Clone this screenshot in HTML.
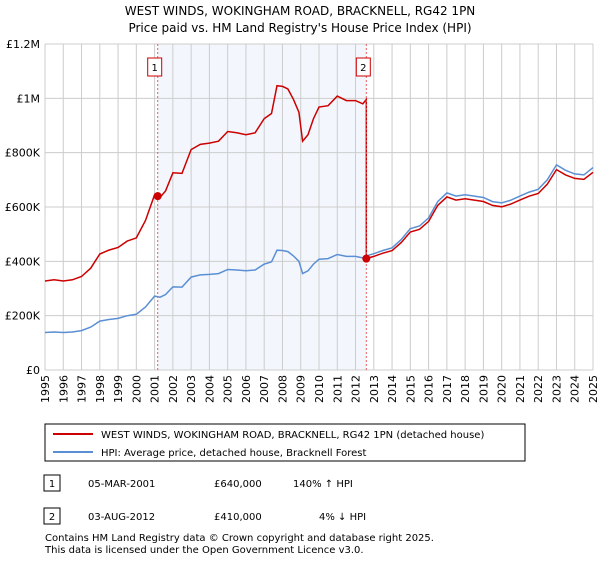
<!DOCTYPE html>
<html><head><meta charset="utf-8"><style>
body{margin:0;background:#fff;font-family:"Liberation Sans","DejaVu Sans",sans-serif;}
svg text{font-family:"DejaVu Sans","Liberation Sans",sans-serif;}
</style></head><body>
<svg id="c" width="600" height="560" xmlns="http://www.w3.org/2000/svg">
<text x="300" y="15" text-anchor="middle" font-size="12">WEST WINDS, WOKINGHAM ROAD, BRACKNELL, RG42 1PN</text>
<text x="300" y="32" text-anchor="middle" font-size="12">Price paid vs. HM Land Registry's House Price Index (HPI)</text>
<g id="grid"></g><g id="series"></g>
<rect x="45" y="424" width="480" height="37" fill="#fff" stroke="#000" stroke-width="1"/>
<line x1="53" y1="434" x2="93" y2="434" stroke="#cc0000" stroke-width="2"/>
<text x="101" y="438" font-size="10">WEST WINDS, WOKINGHAM ROAD, BRACKNELL, RG42 1PN (detached house)</text>
<line x1="53" y1="452" x2="93" y2="452" stroke="#5b8fd4" stroke-width="2"/>
<text x="101" y="456" font-size="10">HPI: Average price, detached house, Bracknell Forest</text>
<rect x="44" y="475" width="16" height="16" fill="#fff" stroke="#000"/>
<text x="52" y="487" font-size="10" text-anchor="middle">1</text>
<text x="88" y="487" font-size="10">05-MAR-2001</text>
<text x="214" y="487" font-size="10">£640,000</text>
<text x="293" y="487" font-size="10">140% ↑ HPI</text>
<rect x="44" y="508" width="16" height="16" fill="#fff" stroke="#000"/>
<text x="52" y="520" font-size="10" text-anchor="middle">2</text>
<text x="88" y="520" font-size="10">03-AUG-2012</text>
<text x="214" y="520" font-size="10">£410,000</text>
<text x="319" y="520" font-size="10">4% ↓ HPI</text>
<text x="45" y="541" font-size="10">Contains HM Land Registry data © Crown copyright and database right 2025.</text>
<text x="45" y="553" font-size="10">This data is licensed under the Open Government Licence v3.0.</text>
</svg>
<script>
const hpiYears=[1995,1995.5,1996,1996.5,1997,1997.5,1998,1998.5,1999,1999.5,2000,2000.5,2001,2001.3,2001.6,2002,2002.5,2003,2003.5,2004,2004.5,2005,2005.5,2006,2006.5,2007,2007.4,2007.7,2008,2008.3,2008.6,2008.9,2009.1,2009.4,2009.7,2010,2010.5,2011,2011.5,2012,2012.4,2012.6,2013,2013.5,2014,2014.5,2015,2015.5,2016,2016.5,2017,2017.5,2018,2018.5,2019,2019.5,2020,2020.5,2021,2021.5,2022,2022.5,2023,2023.5,2024,2024.5,2025];
const hpiValues=[138,140,138,140,145,158,180,186,190,200,205,232,272,268,278,306,305,342,350,352,355,370,368,365,368,390,398,441,440,436,420,400,355,365,390,408,410,425,418,418,413,420,428,440,450,480,520,530,560,620,652,640,645,640,635,620,615,625,640,655,665,700,755,735,722,718,745];
const sales=[{t:2001.17,v:640000,label:"1"},{t:2012.59,v:410000,label:"2"}];
const yTicks=[0,200000,400000,600000,800000,1000000,1200000];
const yTickLabels=["£0","£200K","£400K","£600K","£800K","£1M","£1.2M"];
const x0=45,x1=593,y0=370,y1=44;
const X=t=>x0+(t-1995)/30*(x1-x0);
const Y=v=>y0-v/1200000*(y0-y1);
const NS="http://www.w3.org/2000/svg";
function mk(tag,attrs,parent){const e=document.createElementNS(NS,tag);for(const k in attrs)e.setAttribute(k,attrs[k]);parent.appendChild(e);return e;}
const g=document.getElementById('grid'),s=document.getElementById('series');
let r=mk('rect',{x:X(sales[0].t),y:y1,width:X(sales[1].t)-X(sales[0].t),height:y0-y1,fill:'#eef3fc',opacity:0.7},g);


for(let yr=1995;yr<=2025;yr++){
 let l=mk('line',{x1:X(yr),x2:X(yr),y1:y1,y2:y0,stroke:'#cccccc','stroke-width':1},g);
 
 
 let t=mk('text',{x:0,y:0,'font-size':11,'text-anchor':'end',transform:`translate(${X(yr)+4},${y0+5}) rotate(-90)`},g);
 t.textContent=yr;
 
 
}
yTicks.forEach((v,i)=>{
 let l=mk('line',{x1:x0,x2:x1,y1:Y(v),y2:Y(v),stroke:'#cccccc','stroke-width':1},g);
 
 
 let t=mk('text',{x:40,y:Y(v)+4,'font-size':11,'text-anchor':'end'},g);
 t.textContent=yTickLabels[i];
 
 
});
function hpiAt(t){for(let i=1;i<hpiYears.length;i++){if(t<=hpiYears[i]){const f=(t-hpiYears[i-1])/(hpiYears[i]-hpiYears[i-1]);return hpiValues[i-1]+f*(hpiValues[i]-hpiValues[i-1]);}}return hpiValues[hpiValues.length-1];}
const hp=hpiYears.map((t,i)=>`${X(t).toFixed(1)},${Y(hpiValues[i]*1000).toFixed(1)}`).join(' ');
let hl=mk('polyline',{points:hp,fill:'none',stroke:'#5b8fd4','stroke-width':1.5},s);


const r1=sales[0].v/(hpiAt(sales[0].t)*1000), r2=sales[1].v/(hpiAt(sales[1].t)*1000);
let pts=[];
hpiYears.forEach((t,i)=>{if(t<sales[1].t)pts.push([t,hpiValues[i]*1000*r1]);});
pts.push([sales[1].t,hpiAt(sales[1].t)*1000*r1]);
pts.push([sales[1].t,sales[1].v]);
hpiYears.forEach((t,i)=>{if(t>sales[1].t)pts.push([t,hpiValues[i]*1000*r2]);});
let pl=mk('polyline',{points:pts.map(p=>`${X(p[0]).toFixed(1)},${Y(p[1]).toFixed(1)}`).join(' '),fill:'none',stroke:'#cc0000','stroke-width':1.5},s);


sales.forEach(sa=>{
 let l=mk('line',{x1:X(sa.t),x2:X(sa.t),y1:y1,y2:y0,stroke:'#e06060','stroke-width':1,'stroke-dasharray':'2,2'},s);
 
 
 let c=mk('circle',{cx:X(sa.t),cy:Y(sa.v),r:4,fill:'#cc0000'},s);
 
 
 let b=mk('rect',{x:X(sa.t)-10,y:58,width:14,height:18,fill:'#fff',stroke:'#cc0000'},s);
 
 
 let tx=mk('text',{x:X(sa.t)-3,y:71,'font-size':10,'text-anchor':'middle'},s);
 tx.textContent=sa.label;
 
 
});
</script>
</body></html>
